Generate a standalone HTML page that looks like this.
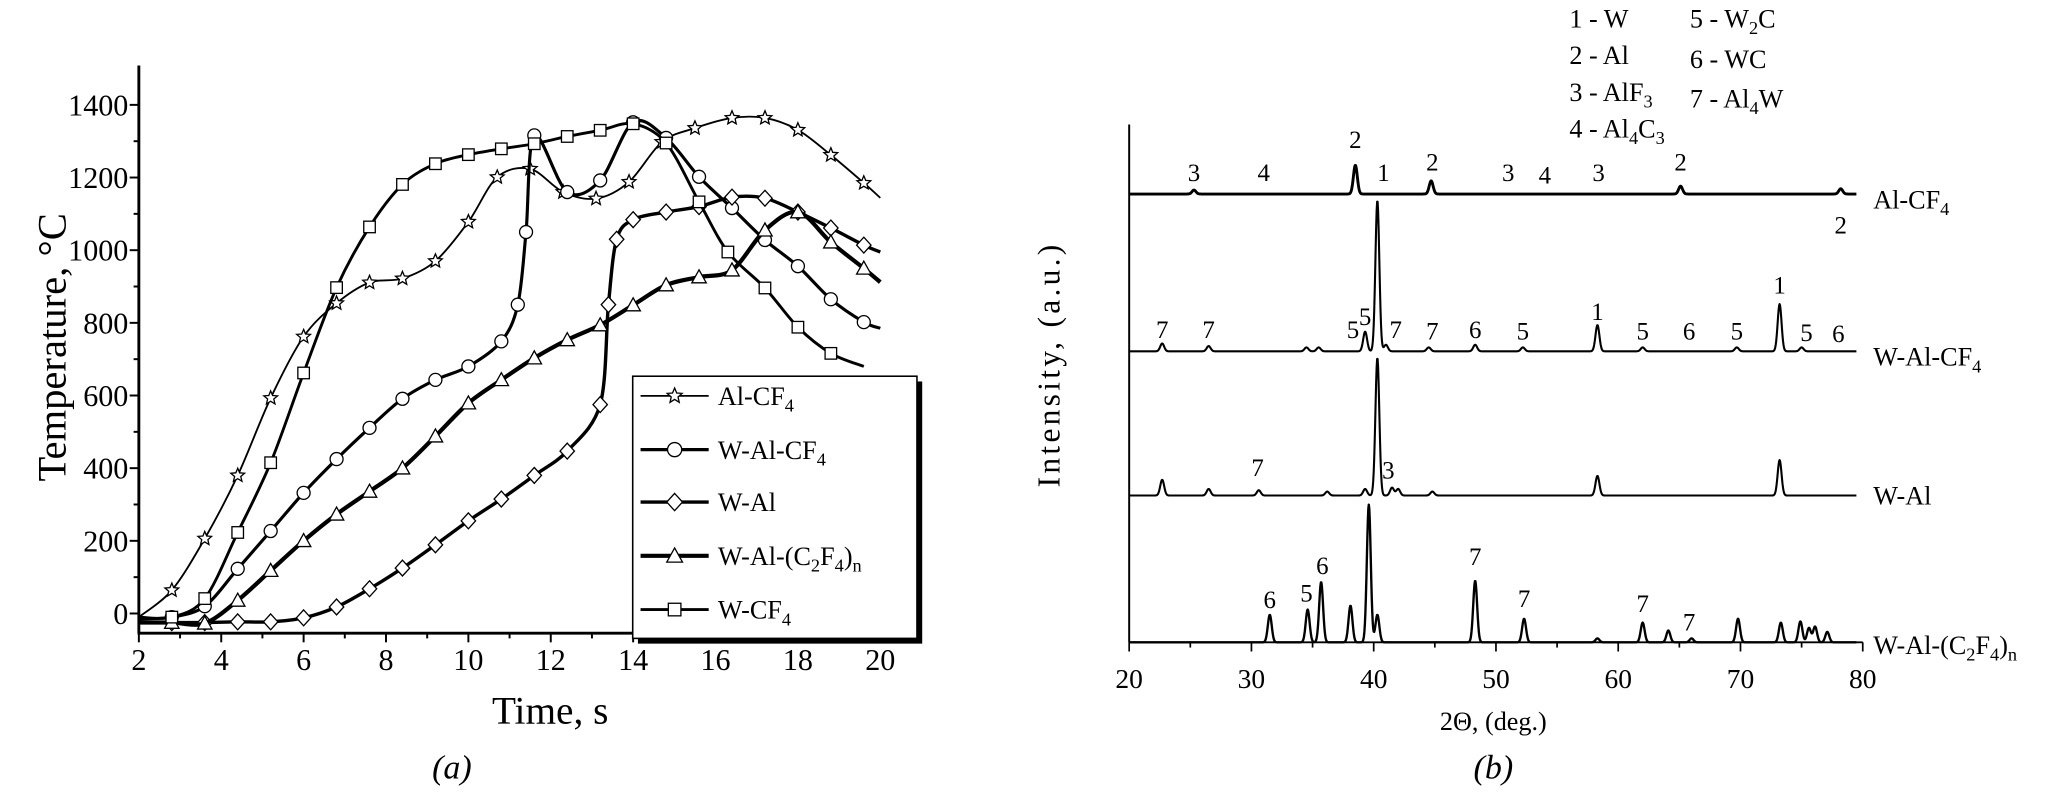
<!DOCTYPE html>
<html><head><meta charset="utf-8"><style>
html,body{margin:0;padding:0;background:#fff;}
svg{display:block;font-family:"Liberation Serif",serif;}
</style></head><body>
<svg id="fig" width="2054" height="797" viewBox="0 0 1568 608" preserveAspectRatio="none" xmlns="http://www.w3.org/2000/svg">
<g id="chartA"></g>
<g id="chartB"></g>
</svg>
<script>
// ---------- Chart (a) data ----------
const aSeriesNames = ["Al-CF4","W-Al-CF4","W-Al","W-Al-(C2F4)n","W-CF4"];
const alcf4T = [2,2.8,3.6,4.4,5.2,6.0,6.8,7.6,8.4,9.2,10.0,10.7,11.5,12.3,13.1,13.9,14.7,15.5,16.4,17.2,18.0,18.8,19.6,20];
const alcf4V = [-10,64,206,380,593,762,854,911,922,970,1078,1201,1224,1160,1142,1188,1298,1336,1364,1364,1331,1262,1185,1144];
const walcf4T = [2,2.8,3.6,4.4,5.2,6.0,6.8,7.6,8.4,9.2,10.0,10.8,11.2,11.4,11.6,12.4,13.2,14.0,14.8,15.6,16.4,17.2,18.0,18.8,19.6,20];
const walcf4V = [-15,-10,20,123,227,332,425,511,591,643,680,749,850,1050,1316,1160,1192,1352,1309,1202,1116,1028,956,865,802,785];
const walT = [2,2.8,3.6,4.4,5.2,6.0,6.8,7.6,8.4,9.2,10.0,10.8,11.6,12.4,13.2,13.4,13.6,14.0,14.8,15.6,16.4,17.2,18.0,18.8,19.6,20];
const walV = [-25,-25,-25,-23,-23,-12,18,68,125,189,255,315,380,447,575,850,1030,1084,1105,1120,1146,1143,1105,1061,1014,995];
const walc2f4T = [2,2.8,3.6,4.4,5.2,6.0,6.8,7.6,8.4,9.2,10.0,10.8,11.6,12.4,13.2,14.0,14.8,15.6,16.4,17.2,18.0,18.8,19.6,20];
const walc2f4V = [-25,-25,-27,36,118,200,273,336,400,488,579,643,703,753,794,849,904,926,945,1055,1105,1022,950,912];
const wcf4T = [2,2.8,3.6,4.4,5.2,6.0,6.8,7.6,8.4,9.2,10.0,10.8,11.6,12.4,13.2,14.0,14.8,15.6,16.3,17.2,18.0,18.8,19.6];
const wcf4V = [-10,-10,41,223,415,662,897,1064,1181,1238,1263,1279,1293,1313,1330,1348,1295,1133,995,896,788,716,680];
const aXTicks = [2,4,6,8,10,12,14,16,18,20];
const aYTicks = [0,200,400,600,800,1000,1200,1400];

// ---------- Chart (b) data ----------
const bSampleNames = ["Al-CF4","W-Al-CF4","W-Al","W-Al-(C2F4)n"];
const alcf4Pos = [25.3,38.5,44.7,65.1,78.2];
const alcf4H   = [3,22,10,6,4];
const walcf4Pos = [22.7,26.5,34.5,35.5,39.3,40.3,41.0,44.5,48.3,52.2,58.3,62.0,69.7,73.2,75.0];
const walcf4H   = [6,4,3,3,15,115,5,3,5,3,20,3,3,36,3];
const walPos = [22.7,26.5,30.6,36.2,39.3,40.3,41.5,42.0,44.8,58.3,73.2];
const walH   = [12,5,4,3,5,105,6,5,3,15,27];
const c2f4Pos = [31.5,34.6,35.7,38.1,39.6,40.3,48.3,52.3,58.3,62.0,64.1,66.0,69.8,73.3,74.9,75.6,76.1,77.1];
const c2f4H   = [21,25,46,28,105,21,47,18,3,15,9,3,18,15,16,11,12,8];
const bXTicks = [20,30,40,50,60,70,80];

const NS="http://www.w3.org/2000/svg";
function mk(parent,tag,attrs,text){const e=document.createElementNS(NS,tag);for(const k in attrs)e.setAttribute(k,attrs[k]);if(text!==undefined)e.textContent=text;parent.appendChild(e);return e;}

// ===== Chart A =====
const A=document.getElementById('chartA');
const ax0=106, ax1=672, ay0=468, ay1400=80;
const xA=t=>ax0+(t-2)*(ax1-ax0)/18;
const yA=v=>ay0-(v)*(ay0-ay1400)/1400;
const axisBottomA=483, axisTopA=50;
let e;
e=mk(A,'line',{x1:ax0,y1:axisTopA,x2:ax0,y2:axisBottomA,stroke:'#000','stroke-width':2.2});


e=mk(A,'line',{x1:ax0-1,y1:axisBottomA,x2:ax1+2,y2:axisBottomA,stroke:'#000','stroke-width':2.2});


for(let t=2;t<=20;t++){
  const maj=(t%2===0);
  e=mk(A,'line',{x1:xA(t),y1:axisBottomA,x2:xA(t),y2:axisBottomA+(maj?7:4),stroke:'#000','stroke-width':1.5});
  
  
}
aXTicks.forEach(t=>{
  e=mk(A,'text',{x:xA(t),y:511,'font-size':23,'text-anchor':'middle'},String(t));
  
  
});
for(let v=0;v<=1400;v+=100){
  const maj=(v%200===0);
  e=mk(A,'line',{x1:ax0,y1:yA(v),x2:ax0-(maj?7:4),y2:yA(v),stroke:'#000','stroke-width':1.5});
  
  
}
aYTicks.forEach(v=>{
  e=mk(A,'text',{x:ax0-8,y:yA(v)+8,'font-size':23,'text-anchor':'end'},String(v));
  
  
});
e=mk(A,'text',{x:420,y:552,'font-size':30,'text-anchor':'middle'},'Time, s');


e=mk(A,'text',{x:0,y:0,'font-size':31,'text-anchor':'middle',transform:'translate(50,265) rotate(-90)'},'Temperature, °C');


e=mk(A,'text',{x:345,y:594,'font-size':26,'font-style':'italic','text-anchor':'middle'},'(a)');



function smoothPath(pts){
  let d=`M${pts[0][0]},${pts[0][1]}`;
  for(let i=0;i<pts.length-1;i++){
    const p0=pts[Math.max(0,i-1)],p1=pts[i],p2=pts[i+1],p3=pts[Math.min(pts.length-1,i+2)];
    const k=0.16;
    const c1=[p1[0]+(p2[0]-p0[0])*k,p1[1]+(p2[1]-p0[1])*k];
    const c2=[p2[0]-(p3[0]-p1[0])*k,p2[1]-(p3[1]-p1[1])*k];
    d+=` C${c1[0]},${c1[1]} ${c2[0]},${c2[1]} ${p2[0]},${p2[1]}`;
  }
  return d;
}
function marker(g,type,x,y,r){
  let m;
  if(type==='star'){
    let p=[];for(let i=0;i<10;i++){const a=-Math.PI/2+i*Math.PI/5;const rr=i%2?r*0.45:r;p.push((x+rr*Math.cos(a)).toFixed(1)+','+(y+rr*Math.sin(a)).toFixed(1));}
    m=mk(g,'polygon',{points:p.join(' '),fill:'#fff',stroke:'#000','stroke-width':1});
  }else if(type==='circle'){
    m=mk(g,'circle',{cx:x,cy:y,r:r*0.9,fill:'#fff',stroke:'#000','stroke-width':1});
  }else if(type==='diamond'){
    m=mk(g,'polygon',{points:`${x},${y-r*1.1} ${x+r},${y} ${x},${y+r*1.1} ${x-r},${y}`,fill:'#fff',stroke:'#000','stroke-width':1});
  }else if(type==='triangle'){
    m=mk(g,'polygon',{points:`${x},${y-r} ${x+r},${y+r*0.8} ${x-r},${y+r*0.8}`,fill:'#fff',stroke:'#000','stroke-width':1});
  }else{
    m=mk(g,'rect',{x:x-r*0.8,y:y-r*0.8,width:r*1.6,height:r*1.6,fill:'#fff',stroke:'#000','stroke-width':1});
  }
  return m;
}
const aSeries=[
 {t:alcf4T,v:alcf4V,m:'star',w:1.4,name:'series-al-cf4'},
 {t:walcf4T,v:walcf4V,m:'circle',w:2.4,name:'series-w-al-cf4'},
 {t:walT,v:walV,m:'diamond',w:2.6,name:'series-w-al'},
 {t:walc2f4T,v:walc2f4V,m:'triangle',w:3.2,name:'series-w-al-c2f4n'},
 {t:wcf4T,v:wcf4V,m:'square',w:2.2,name:'series-w-cf4'}
];
aSeries.forEach(s=>{
  const g=mk(A,'g',{});
  
  
  const pts=s.t.map((t,i)=>[xA(t),yA(s.v[i])]);
  e=mk(g,'path',{d:smoothPath(pts),fill:'none',stroke:'#000','stroke-width':s.w,'stroke-linejoin':'round'});
  
  
  pts.forEach((p,i)=>{
    if(i===0||i===pts.length-1)return;
    const m=marker(g,s.m,p[0],p[1],5.5);
    
    
  });
});
// legend
const L=mk(A,'g',{});


mk(L,'rect',{x:487,y:291,width:217,height:200,fill:'#000'});
e=mk(L,'rect',{x:483,y:287,width:217,height:200,fill:'#fff',stroke:'#000','stroke-width':1.2});


const legRows=[302,343,383,424,465];
const legLabels=[['Al-CF','4',''],['W-Al-CF','4',''],['W-Al','',''],['W-Al-(C','2','F','4',')','n'],['W-CF','4','']];
aSeries.forEach((s,i)=>{
  const g=mk(L,'g',{});
  
  
  const y=legRows[i];
  mk(g,'line',{x1:489,y1:y,x2:541,y2:y,stroke:'#000','stroke-width':s.w});
  marker(g,s.m,515,y,6);
  const tx=mk(g,'text',{x:548,y:y+7,'font-size':20});
  const parts=legLabels[i];
  parts.forEach((p,j)=>{
    if(p==='')return;
    const sub=(j%2===1);
    mk(tx,'tspan',sub?{'font-size':14,dy:5}:{dy:(j>0&&parts[j-1]!=='')?-5:0},p);
  });
});

// ===== Chart B =====
const B=document.getElementById('chartB');
const bx0=862,bx1=1422;
const xB=d=>bx0+(d-20)*(bx1-bx0)/60;
const bAxisY=490, bTop=95;
e=mk(B,'line',{x1:bx0,y1:bTop,x2:bx0,y2:bAxisY,stroke:'#000','stroke-width':1.5});


e=mk(B,'line',{x1:bx0,y1:bAxisY,x2:bx1,y2:bAxisY,stroke:'#000','stroke-width':1.5});


for(let d=20;d<=80;d+=5){
  const maj=(d%10===0);
  e=mk(B,'line',{x1:xB(d),y1:bAxisY,x2:xB(d),y2:bAxisY+(maj?7:4),stroke:'#000','stroke-width':1.3});
  
  
}
bXTicks.forEach(d=>{
  e=mk(B,'text',{x:xB(d),y:525,'font-size':21,'text-anchor':'middle'},String(d));
  
  
});
e=mk(B,'text',{x:1140,y:557,'font-size':20,'text-anchor':'middle'},'2Θ, (deg.)');


e=mk(B,'text',{x:0,y:0,'font-size':24,'text-anchor':'middle','letter-spacing':'2.5',transform:'translate(809,278) rotate(-90)'},'Intensity, (a.u.)');


e=mk(B,'text',{x:1140,y:594,'font-size':26,'font-style':'italic','text-anchor':'middle'},'(b)');



const bSeries=[
 {pos:alcf4Pos,h:alcf4H,base:148,name:'pattern-al-cf4',w:2.2},
 {pos:walcf4Pos,h:walcf4H,base:268,name:'pattern-w-al-cf4',w:1.6},
 {pos:walPos,h:walH,base:378,name:'pattern-w-al',w:1.6},
 {pos:c2f4Pos,h:c2f4H,base:490,name:'pattern-w-al-c2f4n',w:1.8}
];
bSeries.forEach(s=>{
  let d='';
  for(let a=20;a<=79.5;a+=0.04){
    let y=s.base;
    s.pos.forEach((p,i)=>{const z=(a-p)/0.16;y-=s.h[i]*Math.exp(-z*z/2);});
    d+=(d?'L':'M')+xB(a).toFixed(2)+','+y.toFixed(2);
  }
  e=mk(B,'path',{d:d,fill:'none',stroke:'#000','stroke-width':s.w,'stroke-linejoin':'round'});
  
  
});
function lab(x,y,txt,sz,nm){
  const t=mk(B,'text',{x:x,y:y,'font-size':sz||19,'text-anchor':'middle'},txt);
  
  
  return t;
}
[[25.3,138,'3'],[31,138,'4'],[38.5,113,'2'],[40.8,138,'1'],[44.8,130,'2'],[51,138,'3'],[54,140,'4'],[58.4,138,'3'],[65.1,130,'2'],[78.2,178,'2']].forEach(p=>lab(xB(p[0]),p[1],p[2]));
[[22.7,258,'7'],[26.5,258,'7'],[38.3,258,'5'],[39.3,248,'5'],[41.8,258,'7'],[44.8,259,'7'],[48.3,258,'6'],[52.2,259,'5'],[58.3,244,'1'],[62,259,'5'],[65.8,259,'6'],[69.7,259,'5'],[73.2,224,'1'],[75.4,260,'5'],[78,261,'6']].forEach(p=>lab(xB(p[0]),p[1],p[2]));
[[30.5,363,'7'],[41.2,365,'3']].forEach(p=>lab(xB(p[0]),p[1],p[2]));
[[31.5,464,'6'],[34.5,459,'5'],[35.8,438,'6'],[48.3,431,'7'],[52.3,463,'7'],[62,467,'7'],[65.8,481,'7']].forEach(p=>lab(xB(p[0]),p[1],p[2]));
function sampleLabel(x,y,parts,nm){
  const t=mk(B,'text',{x:x,y:y,'font-size':20});
  
  
  parts.forEach(p=>{
    if(p[1]) mk(t,'tspan',{'font-size':14,dy:5},p[0]);
    else mk(t,'tspan',{dy:p[2]||0},p[0]);
  });
}
sampleLabel(1430,159,[['Al-CF'],['4',1]],'label-al-cf4');
sampleLabel(1430,279,[['W-Al-CF'],['4',1]],'label-w-al-cf4');
sampleLabel(1430,385,[['W-Al']],'label-w-al');
sampleLabel(1430,499,[['W-Al-(C'],['2',1],['F',0,-5],['4',1],[')',0,-5],['n',1]],'label-w-al-c2f4n');
sampleLabel(1198,21,[['1 - W']],'phase-legend-1');
sampleLabel(1198,49,[['2 - Al']],'phase-legend-2');
sampleLabel(1198,77,[['3 - AlF'],['3',1]],'phase-legend-3');
sampleLabel(1198,105,[['4 - Al'],['4',1],['C',0,-5],['3',1]],'phase-legend-4');
sampleLabel(1290,21,[['5 - W'],['2',1],['C',0,-5]],'phase-legend-5');
sampleLabel(1290,52,[['6 - WC']],'phase-legend-6');
sampleLabel(1290,82,[['7 - Al'],['4',1],['W',0,-5]],'phase-legend-7');
</script>
</body></html>
